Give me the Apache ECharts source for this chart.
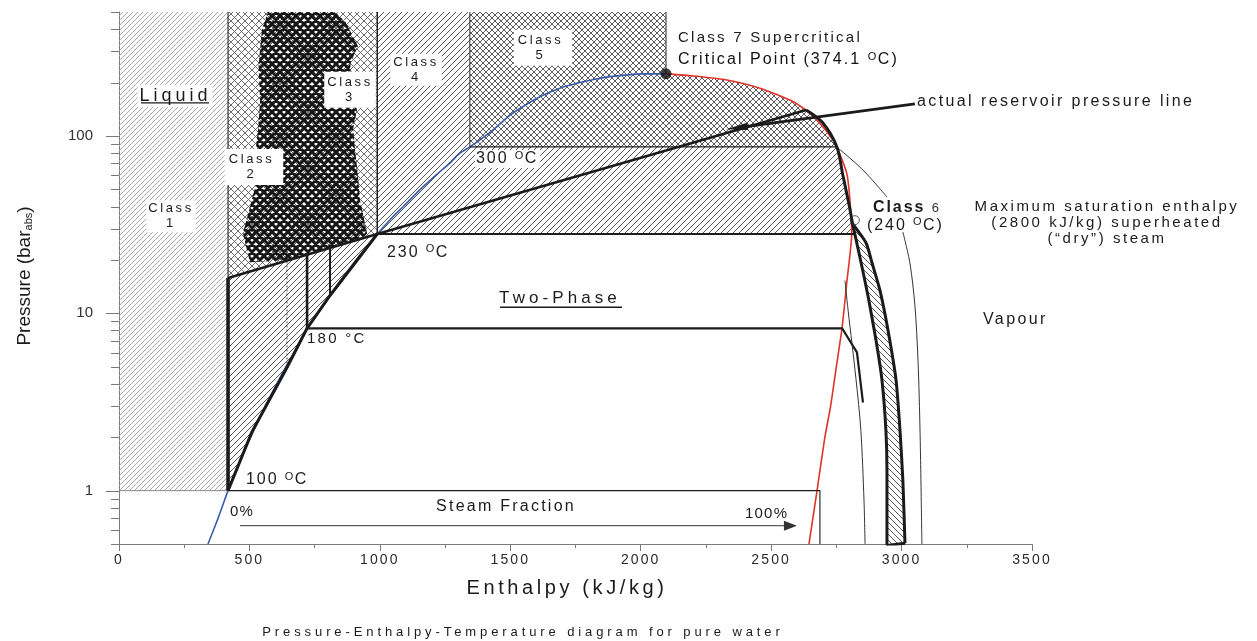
<!DOCTYPE html>
<html lang="en">
<head>
<meta charset="utf-8">
<title>Pressure-Enthalpy-Temperature diagram for pure water</title>
<script src="https://cdn.jsdelivr.net/npm/echarts@6.0.0/dist/echarts.min.js"></script>
<style>
  html, body { margin: 0; padding: 0; background: #fff; }
  #chart { width: 1257px; height: 641px; }
</style>
</head>
<body>
<div id="chart"></div>
<script>
// ---------------------------------------------------------------------------
// Data. Every point is [enthalpy h in kJ/kg, pressure p in bar abs].
// ---------------------------------------------------------------------------
const enthalpyTicks = [0, 500, 1000, 1500, 2000, 2500, 3000, 3500];
const pressureLabels = [1, 10, 100];
const pressureTicks = [0.5, 0.6, 0.7, 0.8, 0.9, 1, 2, 3, 4, 5, 6, 7, 8, 9,
  10, 20, 30, 40, 50, 60, 70, 80, 90, 100, 200, 300, 400, 500];

// Saturation dome
const satLiquid = [[341, 0.5], [380, 0.7], [418, 1], [467, 1.5], [505, 2], [561, 3], [605, 4],
  [640, 5], [697, 7], [721, 8.2], [763, 10], [845, 15], [909, 20], [962, 25], [990, 28],
  [1050, 35], [1090, 40], [1155, 50], [1214, 60], [1267, 70], [1307, 80], [1345, 86.7],
  [1384, 95], [1440, 110], [1499, 131], [1560, 150], [1627, 170], [1690, 186], [1755, 198],
  [1820, 208], [1882, 216], [1950, 221], [2010, 224], [2097, 224]];
const satVapour = [[2097, 224], [2202, 218], [2330, 207], [2457, 186], [2585, 156], [2649, 134],
  [2713, 106], [2751, 87], [2790, 61.5], [2802, 43.6], [2809, 28.2], [2800, 20], [2790, 15],
  [2783, 11.8], [2772, 8.3], [2750, 5], [2728, 3], [2706, 2], [2676, 1], [2660, 0.7], [2645, 0.5]];
const criticalPoint = [2097, 224];

// Saturation pressures of the marked isotherms
const p100C = 1, p180C = 8.23, p230C = 28, p300C = 86.7;

// Enthalpy spans of the resource classes
const class1Span = [0, 418];
const class2Span = [418, 990];
const class4Span = [990, 1345];
const class5Span = [1345, 2097];

// Isotherm lines
const isobar100 = [[418, p100C], [2687, p100C], [2687, 0.5]];
const class1Floor = [[0, p100C], [418, p100C]];
const isobar180 = [[721, p180C], [2772, p180C], [2829, 6.02], [2852, 3.14]];
const isobar230 = [[990, p230C], [2821, p230C]];
const isobar300 = [[1345, p300C], [2752, p300C]];

// Reservoir envelope
const reservoirLiquidEdge = [[418, 1], [510, 2.15], [644, 4.95], [721, 8.23], [809, 12.6], [990, 28]];
const reservoirLeft = [[418, 1], [418, 15.8]];
const reservoirLower = [[418, 15.8], [990, 28]];
const reservoirUpper = [[990, 28], [2634, 140]];
const reservoirDome = [[2634, 140], [2697, 119], [2752, 86.7], [2775, 60], [2800, 40], [2812, 32]];
const dividerA = [[644, 4.95], [644, 19.8]];
const dividerB = [[721, 8.23], [721, 21.4]];
const dividerC = [[809, 12.6], [809, 23.4]];

// Class 3 core and Class 6 superheated band
const class3Outline = [[548, 397], [571, 500], [828, 500], [868, 440], [916, 320], [888, 260],
  [886, 221], [912, 140], [898, 110], [905, 83.4], [916, 60], [924, 43.5], [951, 28.3], [940, 27],
  [656, 20], [502, 19.4], [475, 28.3], [502, 39.7], [529, 56.4], [522, 80], [533, 108],
  [541, 160], [535, 250]];
const class6Left = [[2812, 32], [2841, 20.5], [2871, 12.6], [2902, 7.04], [2925, 4.18],
  [2940, 2.18], [2944, 1.3], [2944, 0.49]];
const class6Right = [[2812, 32], [2864, 24.9], [2887, 19.2], [2917, 13.5], [2948, 8.02],
  [2979, 4.18], [2994, 2.18], [3005, 1.14], [3013, 0.505]];
const class6Marker = [2821, 33.5];

// Superheated steam curves
const leaderArc = [[2756, 85.5], [2852, 64.2], [2944, 45.2]];
const superheatInner = [[2783, 15.3], [2795, 10.4], [2825, 4.3], [2844, 2.18], [2856, 0.878], [2860, 0.5]];
const superheatOuter = [[3005, 28.7], [3032, 19.2], [3051, 11.1], [3063, 5.43], [3071, 2.1], [3078, 0.5]];

// Arrows: [from, to]
const reservoirPressureLine = [[3051, 151.7], [2327, 109]];
const steamFractionArrow = [[464, 0.634], [2599, 0.634]];

// Underlines of the "Liquid" and "Two-Phase" headings
const liquidUnderline = [[84.3, 153.6], [345, 153.6]];
const twoPhaseUnderline = [[1460.6, 10.81], [1928.3, 10.81]];

// ---------------------------------------------------------------------------
// Text spacing: fonts whose family list carries an "lsNN" entry are drawn
// with a letter spacing of NN/100 em; every other font is drawn with none.
// ---------------------------------------------------------------------------
(function enableTracking() {
  const proto = window.CanvasRenderingContext2D && CanvasRenderingContext2D.prototype;
  if (!proto || !('letterSpacing' in proto)) return;
  const spacingOf = (ctx) => {
    const f = ctx.font || '';
    const m = /\bls(\d+)\b/.exec(f);
    const s = /(\d+(?:\.\d+)?)px/.exec(f);
    if (!m || !s) return '0px';
    return (parseFloat(s[1]) * parseInt(m[1], 10) / 100).toFixed(2) + 'px';
  };
  ['fillText', 'strokeText', 'measureText'].forEach((name) => {
    const orig = proto[name];
    proto[name] = function () {
      const sp = spacingOf(this);
      if (this.letterSpacing !== sp) this.letterSpacing = sp;
      return orig.apply(this, arguments);
    };
  });
})();

const INK = '#1b1b1b';
function font(size, track, weight) {
  return (weight ? weight + ' ' : '') + size + 'px "Liberation Sans", ' +
    (track ? 'ls' + track + ', ' : '') + 'Arial, sans-serif';
}

// Repeating hatch tiles
function hatch(size, color, width, dirs) {
  const c = document.createElement('canvas');
  c.width = c.height = size;
  const g = c.getContext('2d');
  g.strokeStyle = color;
  g.lineWidth = width;
  g.beginPath();
  for (let k = -1; k <= 1; k++) {
    if (dirs.indexOf('/') >= 0) { g.moveTo(k * size, size); g.lineTo(k * size + size, 0); }
    if (dirs.indexOf('\\') >= 0) { g.moveTo(k * size, 0); g.lineTo(k * size + size, size); }
  }
  g.stroke();
  return { image: c, repeat: 'repeat' };
}
const FILL = {
  liquid: hatch(5, '#a8a8a8', 1, '/'),
  cross: hatch(7, '#5e5e5e', 0.9, '/\\'),
  crossDark: hatch(6, '#4a4a4a', 0.9, '/\\'),
  lines: hatch(6, '#555', 1, '/'),
  dense: hatch(8, '#161616', 2.9, '/\\'),
  band: hatch(6, '#555', 1, '\\')
};

// ---------------------------------------------------------------------------
// Shaded areas
// ---------------------------------------------------------------------------
const P_TOP = 500;
const vapourAbove300 = satVapour.filter(([, p]) => p < criticalPoint[1] && p > p300C);
const regions = [
  { fill: FILL.liquid, pts: [[class1Span[0], p100C], [class1Span[1], p100C], [class1Span[1], P_TOP], [class1Span[0], P_TOP]] },
  { fill: FILL.cross, pts: [[class2Span[0], P_TOP], [class2Span[1], P_TOP], reservoirLower[1], reservoirLower[0]] },
  { fill: FILL.lines, pts: [[class4Span[0], P_TOP], [class4Span[1], P_TOP], [class4Span[1], p300C],
      isobar300[1]].concat(reservoirDome.filter(([, p]) => p < p300C), [isobar230[1], isobar230[0]]) },
  { fill: FILL.crossDark, pts: [[class5Span[0], P_TOP], [class5Span[1], P_TOP], criticalPoint]
      .concat(vapourAbove300, [isobar300[1], [class5Span[0], p300C]]) },
  { fill: FILL.lines, pts: reservoirLower.concat(reservoirLiquidEdge.slice(0, -1).reverse()) },
  { fill: FILL.dense, pts: class3Outline },
  { fill: FILL.band, pts: class6Left.concat(class6Right.slice().reverse()) }
];

// ---------------------------------------------------------------------------
// Lines
// ---------------------------------------------------------------------------
const strokes = [
  { pts: class1Floor, color: '#8a8a8a', width: 1 },
  { pts: [[class2Span[0], 15.8], [class2Span[0], P_TOP]], color: '#333', width: 1.2 },
  { pts: [[class4Span[0], p230C], [class4Span[0], P_TOP]], color: '#222', width: 1.5 },
  { pts: [[class5Span[0], p300C], [class5Span[0], P_TOP]], color: '#333', width: 1 },
  { pts: [[class5Span[1], criticalPoint[1]], [class5Span[1], P_TOP]], color: '#333', width: 1 },
  { pts: satLiquid, color: '#3b5cab', width: 1.6, smooth: 0.2 },
  { pts: satVapour, color: '#e0342b', width: 1.6, smooth: 0.2 },
  { pts: isobar100, color: INK, width: 1.1 },
  { pts: isobar300, color: INK, width: 1.3 },
  { pts: isobar230, color: INK, width: 2 },
  { pts: isobar180, color: INK, width: 2.2 },
  { pts: leaderArc, color: '#333', width: 1, smooth: 0.4 },
  { pts: superheatInner, color: '#333', width: 1, smooth: 0.3 },
  { pts: superheatOuter, color: '#333', width: 1, smooth: 0.3 },
  { pts: dividerA, color: '#444', width: 1, dash: [2, 2] },
  { pts: dividerB, color: INK, width: 2.6 },
  { pts: dividerC, color: INK, width: 2 },
  { pts: reservoirLeft, color: INK, width: 3.6 },
  { pts: reservoirLiquidEdge, color: INK, width: 3 },
  { pts: reservoirLower, color: INK, width: 2.6 },
  { pts: reservoirUpper, color: INK, width: 2.6 },
  { pts: reservoirDome, color: INK, width: 3, smooth: 0.3 },
  { pts: class6Left, color: INK, width: 3, smooth: 0.2 },
  { pts: class6Right, color: INK, width: 3, smooth: 0.2 },
  { pts: [class6Left[class6Left.length - 1], class6Right[class6Right.length - 1]], color: INK, width: 3 },
  { pts: liquidUnderline, color: INK, width: 1.3, z: 7 },
  { pts: twoPhaseUnderline, color: INK, width: 1.5, z: 7 }
];

const arrows = [
  { line: reservoirPressureLine, color: INK, width: 2.6, head: [22, 3.6] },
  { line: steamFractionArrow, color: '#333', width: 1, head: [13, 5] }
];

// ---------------------------------------------------------------------------
// Annotations (anchored in data space)
// ---------------------------------------------------------------------------
const SUP = (size, ls) => ({ font: font(size, ls), verticalAlign: 'top', lineHeight: size });
const notes = [
  { at: [214.7, 168], text: 'Liquid', size: 18, ls: 22, align: 'center', box: [0, 1, 0, 2] },
  { at: [199.3, 35.3], text: 'Class\n1', size: 13, ls: 20, align: 'center', lh: 15, box: [1, 2, 1, 2] },
  { at: [517.5, 66.8], text: 'Class\n2', size: 13, ls: 20, align: 'center', lh: 15, box: [3, 9, 3, 4] },
  { at: [885.5, 182], text: 'Class\n3', size: 13, ls: 20, align: 'center', lh: 15, box: [3, 3, 3, 3] },
  { at: [1138.6, 236], text: 'Class\n4', size: 13, ls: 20, align: 'center', lh: 15, box: [1, 3, 1, 3] },
  { at: [1625.4, 314], text: 'Class\n5', size: 13, ls: 20, align: 'center', lh: 15, box: [3, 9, 3, 4] },
  { at: [2143, 357.9], text: 'Class 7 Supercritical', size: 15, ls: 15 },
  { at: [2143, 268.8], text: 'Critical Point (374.1 {o|O}C)', size: 16, ls: 13, color: '#111' },
  { at: [3059, 155.7], text: 'actual reservoir pressure line', size: 16, ls: 15 },
  { at: [2890.5, 39.2], text: '{b|Class} {n|6}', size: 16, ls: 12 },
  { at: [2867.5, 31.4], text: '(240 {o|O}C)', size: 16, ls: 12 },
  { at: [3787.5, 32.3], text: 'Maximum saturation enthalpy\n(2800 kJ/kg) superheated\n(\u201cdry\u201d) steam', size: 15, ls: 17, align: 'center', lh: 16 },
  { at: [3312, 9.25], text: 'Vapour', size: 16, ls: 15 },
  { at: [1364.7, 74.1], text: '300 {o|O}C', size: 16, ls: 12, box: [0, 2, 0, 1] },
  { at: [1027.4, 22.1], text: '230 {o|O}C', size: 16, ls: 12 },
  { at: [720.7, 7.13], text: '180 \u00b0C', size: 15, ls: 15 },
  { at: [486.9, 1.154], text: '100 {o|O}C', size: 16, ls: 12 },
  { at: [425.5, 0.761], text: '0%', size: 15, ls: 8 },
  { at: [1483.6, 0.812], text: 'Steam Fraction', size: 16, ls: 14, align: 'center' },
  { at: [2399.8, 0.741], text: '100%', size: 15, ls: 8 },
  { at: [1690.6, 12.15], text: 'Two-Phase', size: 17, ls: 24, align: 'center' }
];

function noteStyle(n) {
  const ls = n.ls || 0;
  const align = n.align || 'left';
  const style = {
    text: n.text,
    font: font(n.size, ls),
    fill: n.color || INK,
    align: align, textAlign: align,
    verticalAlign: 'middle', textVerticalAlign: 'middle',
    rich: {
      o: SUP(Math.round(n.size * 0.68), ls),
      b: { font: font(n.size, ls, 'bold') },
      n: { font: font(Math.round(n.size * 0.8), ls), fill: '#333' }
    }
  };
  if (n.lh) style.lineHeight = n.lh;
  if (n.box) { style.backgroundColor = '#fff'; style.padding = n.box; }
  return style;
}

function isDecade(v) {
  const l = Math.log10(v);
  return Math.abs(l - Math.round(l)) < 1e-6;
}

// ---------------------------------------------------------------------------
// Chart
// ---------------------------------------------------------------------------
const chart = echarts.init(document.getElementById('chart'), null, { renderer: 'canvas' });
const series = [];

series.push({
  type: 'custom', name: 'areas', silent: true, z: 1,
  data: regions.map(() => [1000, 10]),
  renderItem(params, api) {
    const r = regions[params.dataIndex];
    return { type: 'polygon', shape: { points: r.pts.map((pt) => api.coord(pt)) }, style: { fill: r.fill } };
  }
});

strokes.forEach((s, i) => {
  series.push({
    type: 'line', name: 'line' + i, data: s.pts, silent: true, z: s.z || 3,
    symbol: 'none', showSymbol: false, smooth: s.smooth || false,
    lineStyle: { color: s.color, width: s.width, type: s.dash || 'solid', cap: 'butt', join: 'round' }
  });
});

series.push({
  type: 'scatter', name: 'class6Marker', silent: true, z: 3,
  data: [class6Marker], symbol: 'circle', symbolSize: 9,
  itemStyle: { color: 'rgba(0,0,0,0)', borderColor: '#333', borderWidth: 1 }
});

series.push({
  type: 'custom', name: 'arrows', silent: true, z: 4,
  data: arrows.map(() => [1000, 10]),
  renderItem(params, api) {
    const a = arrows[params.dataIndex];
    const p0 = api.coord(a.line[0]);
    const p1 = api.coord(a.line[1]);
    const dx = p1[0] - p0[0], dy = p1[1] - p0[1];
    const len = Math.hypot(dx, dy), ux = dx / len, uy = dy / len;
    const L = a.head[0], W = a.head[1];
    const base = [p1[0] - ux * L, p1[1] - uy * L];
    return {
      type: 'group',
      children: [
        { type: 'line', shape: { x1: p0[0], y1: p0[1], x2: base[0] + ux * 2, y2: base[1] + uy * 2 },
          style: { stroke: a.color, lineWidth: a.width } },
        { type: 'polygon', shape: { points: [p1, [base[0] - uy * W, base[1] + ux * W], [base[0] + uy * W, base[1] - ux * W]] },
          style: { fill: a.color } }
      ]
    };
  }
});

series.push({
  type: 'scatter', name: 'critical point', silent: true, z: 5,
  data: [criticalPoint], symbol: 'circle', symbolSize: 11,
  itemStyle: { color: '#111' }
});

series.push({
  type: 'custom', name: 'pressure ticks', silent: true, z: 2,
  data: pressureTicks.map((v) => [enthalpyTicks[0], v]),
  renderItem(params, api) {
    const v = pressureTicks[params.dataIndex];
    const pt = api.coord([enthalpyTicks[0], v]);
    const len = pressureLabels.indexOf(v) >= 0 ? 13 : 8;
    const y = Math.round(pt[1]) + 0.5;
    return { type: 'line', shape: { x1: pt[0] - len, y1: y, x2: pt[0], y2: y },
      style: { stroke: '#7a7a7a', lineWidth: 1 } };
  }
});

series.push({
  type: 'custom', name: 'notes', silent: true, z: 6,
  data: notes.map((n) => n.at),
  renderItem(params, api) {
    const n = notes[params.dataIndex];
    const pt = api.coord(n.at);
    return { type: 'text', x: pt[0], y: pt[1], style: noteStyle(n) };
  }
});

chart.setOption({
  animation: false,
  backgroundColor: '#fff',
  grid: { left: 119, right: 225, top: 12, bottom: 97 },
  xAxis: {
    type: 'value',
    min: enthalpyTicks[0],
    max: enthalpyTicks[enthalpyTicks.length - 1],
    interval: enthalpyTicks[1] - enthalpyTicks[0],
    axisLine: { onZero: false, lineStyle: { color: '#7a7a7a', width: 1 } },
    axisTick: { length: 7, lineStyle: { color: '#7a7a7a' } },
    minorTick: { show: true, splitNumber: 2, length: 4, lineStyle: { color: '#7a7a7a' } },
    splitLine: { show: false },
    axisLabel: {
      color: '#2a2a2a', fontSize: 14, fontFamily: '"Liberation Sans", ls15, Arial, sans-serif', margin: 8,
      formatter: (v) => String(v)
    }
  },
  yAxis: {
    type: 'log',
    logBase: 10,
    min: 0.5,
    max: P_TOP,
    axisLine: { show: true, onZero: false, lineStyle: { color: '#7a7a7a', width: 1 } },
    axisTick: { show: false },
    minorTick: { show: false },
    splitLine: { show: false },
    axisLabel: {
      color: '#333', fontSize: 15, fontFamily: '"Liberation Sans", Arial, sans-serif', margin: 26,
      formatter: (v) => (isDecade(v) && pressureLabels.indexOf(Math.round(v)) >= 0 ? String(Math.round(v)) : '')
    }
  },
  graphic: [
    { type: 'text', x: 567, y: 588, silent: true,
      style: { text: 'Enthalpy (kJ/kg)', font: font(20, 18), fill: INK,
        align: 'center', textAlign: 'center', verticalAlign: 'middle', textVerticalAlign: 'middle' } },
    { type: 'text', x: 25, y: 276, rotation: Math.PI / 2, silent: true,
      style: { text: 'Pressure (bar{sub|abs})', font: font(19, 0), fill: INK,
        align: 'center', textAlign: 'center', verticalAlign: 'middle', textVerticalAlign: 'middle',
        rich: { sub: { font: font(11, 0), verticalAlign: 'bottom', lineHeight: 11 } } } },
    { type: 'text', x: 523, y: 632, silent: true,
      style: { text: 'Pressure-Enthalpy-Temperature diagram for pure water', font: font(13, 30), fill: INK,
        align: 'center', textAlign: 'center', verticalAlign: 'middle', textVerticalAlign: 'middle' } }
  ],
  series: series
});
</script>
</body>
</html>
